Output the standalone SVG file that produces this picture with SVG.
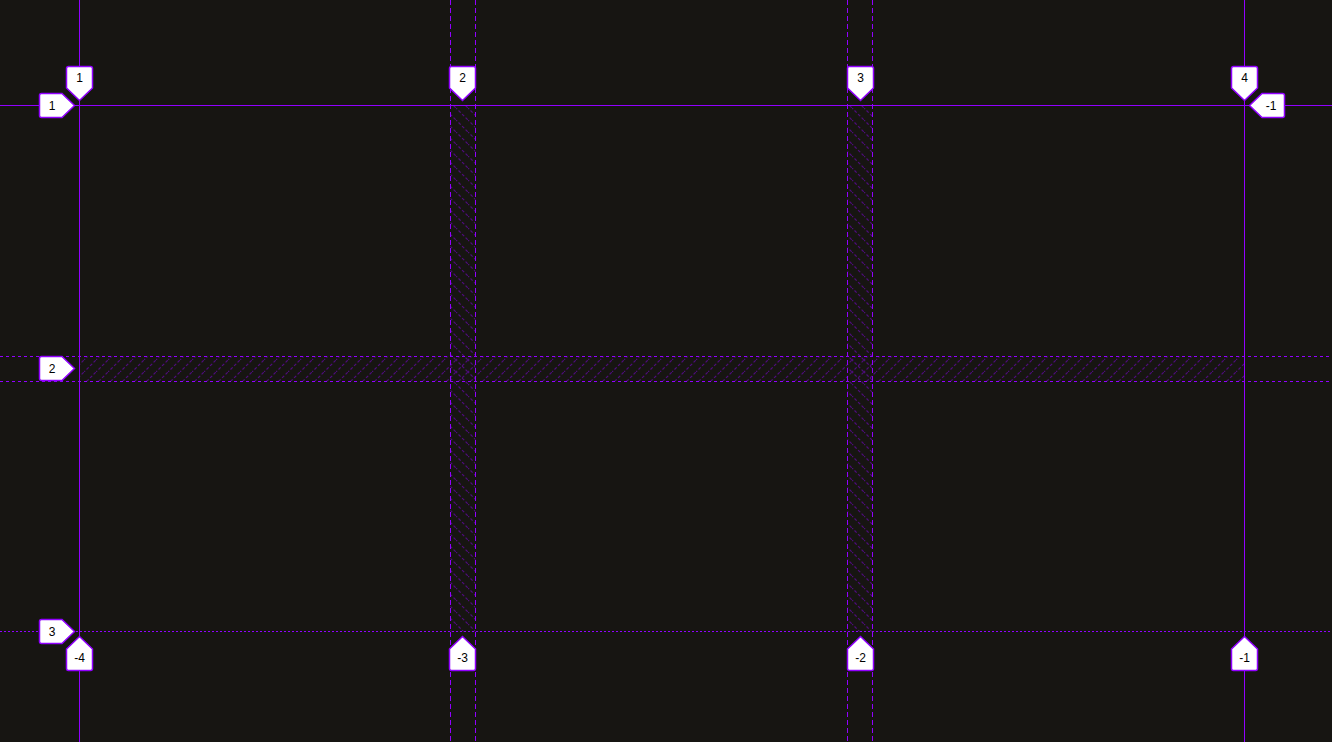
<svg xmlns="http://www.w3.org/2000/svg" width="1332" height="742" viewBox="0 0 1332 742">
<style>
line{shape-rendering:crispEdges}
.solid{stroke:#9100ff;stroke-width:1;fill:none}
.dash{stroke:#9100ff;stroke-width:1;fill:none;stroke-dasharray:5 3}
.dot{stroke:#9100ff;stroke-width:1;fill:none;stroke-dasharray:3 3}
.dot2{stroke:#9100ff;stroke-width:1;fill:none;stroke-dasharray:2 2}
.lbl{fill:#ffffff;stroke:#9100ff;stroke-width:1.5}
.t{font-family:"Liberation Sans",Arial,sans-serif;font-size:12px;fill:#000;text-anchor:middle}
</style>
<defs>
<pattern id="hc" patternUnits="userSpaceOnUse" width="12" height="12">
<line x1="-1" y1="-1" x2="13" y2="13" stroke="#9100ff" stroke-opacity="0.45" stroke-width="1.2" stroke-dasharray="3 2" style="shape-rendering:auto"/>
</pattern>
<pattern id="hr" patternUnits="userSpaceOnUse" width="12" height="12">
<line x1="-1" y1="13" x2="13" y2="-1" stroke="#9100ff" stroke-opacity="0.45" stroke-width="1.2" stroke-dasharray="3 2" style="shape-rendering:auto"/>
</pattern>
</defs>
<rect width="1332" height="742" fill="#171512"/>
<g id="gaps">
<rect x="450.5" y="105.5" width="25" height="526" fill="url(#hc)"/>
<rect x="847.5" y="105.5" width="25" height="526" fill="url(#hc)"/>
<rect x="79.5" y="356.5" width="1165" height="25" fill="url(#hr)"/>
</g>
<g id="connectors">
<line class="solid" x1="79.5" y1="0" x2="79.5" y2="742"/>
<line class="dash" x1="450.5" y1="0" x2="450.5" y2="742"/>
<line class="dash" x1="475.5" y1="0" x2="475.5" y2="742"/>
<line class="dash" x1="847.5" y1="0" x2="847.5" y2="742"/>
<line class="dash" x1="872.5" y1="0" x2="872.5" y2="742"/>
<line class="solid" x1="1244.5" y1="0" x2="1244.5" y2="742"/>
<line class="solid" x1="0" y1="105.5" x2="1332" y2="105.5"/>
<line class="dot" x1="0" y1="356.5" x2="1332" y2="356.5"/>
<line class="dot" x1="0" y1="381.5" x2="1332" y2="381.5"/>
<line class="dot2" x1="0" y1="631.5" x2="1332" y2="631.5"/>
</g>
<g id="col-top-1"><path class="lbl" d="M68.5,66.5 H90.5 Q92.5,66.5 92.5,68.5 V88 L79.5,100.5 L66.5,88 V68.5 Q66.5,66.5 68.5,66.5 Z"/><text class="t" x="79.5" y="82">1</text></g>
<g id="col-top-2"><path class="lbl" d="M451.5,66.5 H473.5 Q475.5,66.5 475.5,68.5 V88 L462.5,100.5 L449.5,88 V68.5 Q449.5,66.5 451.5,66.5 Z"/><text class="t" x="462.5" y="82">2</text></g>
<g id="col-top-3"><path class="lbl" d="M849.5,66.5 H871.5 Q873.5,66.5 873.5,68.5 V88 L860.5,100.5 L847.5,88 V68.5 Q847.5,66.5 849.5,66.5 Z"/><text class="t" x="860.5" y="82">3</text></g>
<g id="col-top-4"><path class="lbl" d="M1233.5,66.5 H1255.5 Q1257.5,66.5 1257.5,68.5 V88 L1244.5,100.5 L1231.5,88 V68.5 Q1231.5,66.5 1233.5,66.5 Z"/><text class="t" x="1244.5" y="82">4</text></g>
<g id="col-bot-m4"><path class="lbl" d="M79.5,636.5 L92.5,649 V668.5 Q92.5,670.5 90.5,670.5 H68.5 Q66.5,670.5 66.5,668.5 V649 Z"/><text class="t" x="79.5" y="662">-4</text></g>
<g id="col-bot-m3"><path class="lbl" d="M462.5,636.5 L475.5,649 V668.5 Q475.5,670.5 473.5,670.5 H451.5 Q449.5,670.5 449.5,668.5 V649 Z"/><text class="t" x="462.5" y="662">-3</text></g>
<g id="col-bot-m2"><path class="lbl" d="M860.5,636.5 L873.5,649 V668.5 Q873.5,670.5 871.5,670.5 H849.5 Q847.5,670.5 847.5,668.5 V649 Z"/><text class="t" x="860.5" y="662">-2</text></g>
<g id="col-bot-m1"><path class="lbl" d="M1244.5,636.5 L1257.5,649 V668.5 Q1257.5,670.5 1255.5,670.5 H1233.5 Q1231.5,670.5 1231.5,668.5 V649 Z"/><text class="t" x="1244.5" y="662">-1</text></g>
<g id="row-1"><path class="lbl" d="M41.5,93.5 H62 L74.5,105.5 L62,117.5 H41.5 Q39.5,117.5 39.5,115.5 V95.5 Q39.5,93.5 41.5,93.5 Z"/><text class="t" x="52" y="110">1</text></g>
<g id="row-2"><path class="lbl" d="M41.5,356.5 H62 L74.5,368.5 L62,380.5 H41.5 Q39.5,380.5 39.5,378.5 V358.5 Q39.5,356.5 41.5,356.5 Z"/><text class="t" x="52" y="373">2</text></g>
<g id="row-3"><path class="lbl" d="M41.5,619.5 H62 L74.5,631.5 L62,643.5 H41.5 Q39.5,643.5 39.5,641.5 V621.5 Q39.5,619.5 41.5,619.5 Z"/><text class="t" x="52" y="636">3</text></g>
<g id="row-right-m1"><path class="lbl" d="M1282.5,93.5 H1262 L1249.5,105.5 L1262,117.5 H1282.5 Q1284.5,117.5 1284.5,115.5 V95.5 Q1284.5,93.5 1282.5,93.5 Z"/><text class="t" x="1271" y="110">-1</text></g>
</svg>
